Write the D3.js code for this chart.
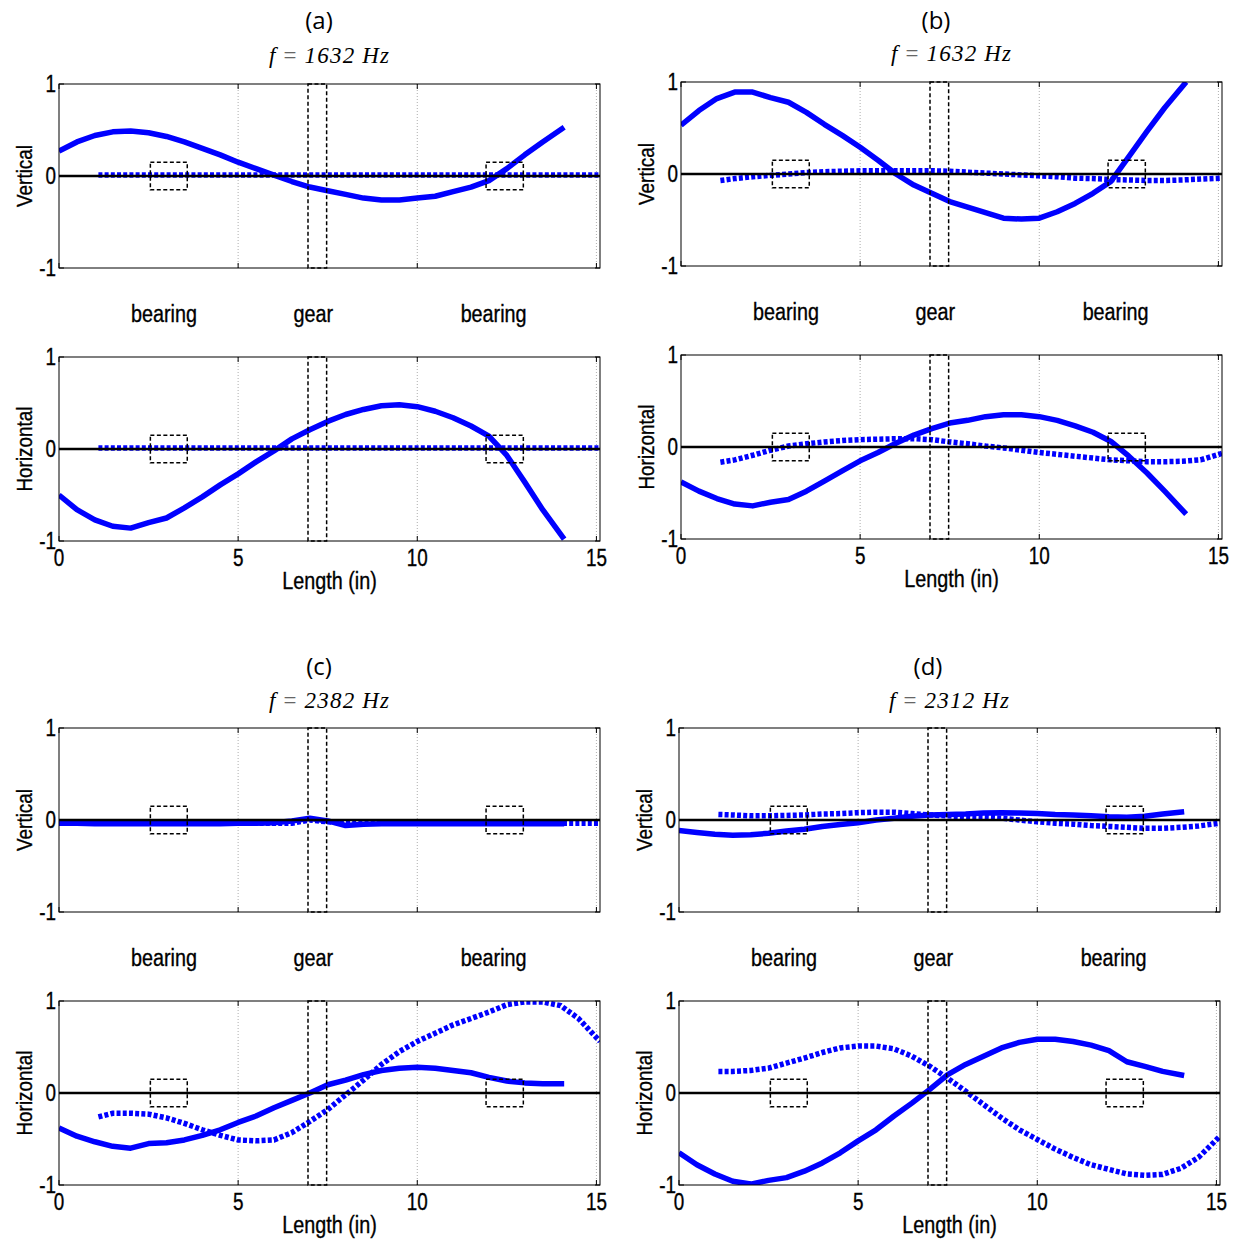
<!DOCTYPE html>
<html><head><meta charset="utf-8">
<script src="https://cdn.jsdelivr.net/npm/d3@7"></script>
<style>body{margin:0;background:#fff}svg{display:block}</style>
</head><body>
<svg id="c" width="1239" height="1243"></svg>
<script>
// ---- data ----
const xTicks = [0, 5, 10, 15];
const yTicks = [-1, 0, 1];
const panelLabels = ["(a)", "(b)", "(c)", "(d)"];
const freqLabels = ["1632", "1632", "2382", "2312"];
const partLabels = ["bearing", "gear", "bearing"];
const partPositions = [2.93, 7.1, 12.13];
const bearingBoxes = [[2.55, 3.58], [11.92, 12.96]];
const gearBox = [6.95, 7.47];
const solidX = [0,0.5,1,1.5,2,2.5,3,3.5,4,4.5,5,5.5,6,6.5,7,7.5,8,8.5,9,9.5,10,10.5,11,11.5,12,12.5,13,13.5,14.1];
const dottedX = [1.1,1.5,2,2.5,3,3.5,4,4.5,5,5.5,6,6.5,7,7.5,8,8.5,9,9.5,10,10.5,11,11.5,12,12.5,13,13.5,14,14.5,15.1];

const aVertSolid = [0.27,0.37,0.44,0.48,0.49,0.47,0.43,0.37,0.30,0.23,0.15,0.08,0.01,-0.06,-0.12,-0.16,-0.20,-0.24,-0.26,-0.26,-0.24,-0.22,-0.17,-0.12,-0.05,0.08,0.23,0.37,0.53];
const aVertDotted = [0.01,0.01,0.01,0.01,0.01,0.01,0.01,0.01,0.01,0.01,0.01,0.01,0.01,0.01,0.01,0.01,0.01,0.01,0.01,0.01,0.01,0.01,0.01,0.01,0.01,0.01,0.01,0.01,0.01];
const aHorSolid = [-0.50,-0.66,-0.77,-0.84,-0.86,-0.80,-0.75,-0.64,-0.52,-0.39,-0.27,-0.14,-0.02,0.11,0.21,0.30,0.375,0.43,0.47,0.48,0.46,0.41,0.34,0.25,0.14,-0.07,-0.36,-0.66,-0.98];
const aHorDotted = [0.01,0.01,0.01,0.01,0.01,0.01,0.01,0.01,0.01,0.01,0.01,0.01,0.01,0.01,0.01,0.01,0.01,0.01,0.01,0.01,0.01,0.01,0.01,0.01,0.01,0.01,0.01,0.01,0.01];

const bVertSolid = [0.53,0.69,0.82,0.89,0.89,0.83,0.78,0.67,0.54,0.42,0.29,0.15,0.0,-0.12,-0.21,-0.30,-0.36,-0.42,-0.48,-0.49,-0.48,-0.41,-0.32,-0.21,-0.08,0.19,0.46,0.72,1.0];
const bVertDotted = [-0.07,-0.05,-0.03,-0.015,0.0,0.015,0.025,0.03,0.035,0.035,0.035,0.035,0.035,0.03,0.02,0.01,0.0,-0.01,-0.02,-0.03,-0.045,-0.05,-0.06,-0.065,-0.07,-0.07,-0.065,-0.055,-0.045];
const bHorSolid = [-0.38,-0.48,-0.56,-0.62,-0.64,-0.60,-0.57,-0.48,-0.37,-0.26,-0.15,-0.06,0.04,0.13,0.20,0.26,0.29,0.33,0.35,0.35,0.33,0.29,0.23,0.16,0.06,-0.10,-0.28,-0.48,-0.73];
const bHorDotted = [-0.165,-0.14,-0.09,-0.035,0.01,0.035,0.055,0.07,0.08,0.085,0.09,0.09,0.08,0.055,0.035,0.01,-0.01,-0.035,-0.06,-0.08,-0.10,-0.12,-0.14,-0.15,-0.16,-0.16,-0.155,-0.14,-0.07];

const cVertSolid = [-0.035,-0.035,-0.04,-0.04,-0.04,-0.04,-0.04,-0.04,-0.04,-0.04,-0.035,-0.035,-0.03,-0.01,0.02,-0.01,-0.06,-0.045,-0.04,-0.04,-0.04,-0.04,-0.04,-0.04,-0.04,-0.04,-0.04,-0.04,-0.04];
const cVertDotted = [-0.035,-0.035,-0.035,-0.035,-0.035,-0.035,-0.035,-0.035,-0.035,-0.035,-0.035,-0.035,0.0,-0.02,-0.035,-0.035,-0.035,-0.035,-0.035,-0.035,-0.035,-0.035,-0.035,-0.035,-0.035,-0.035,-0.035,-0.035,-0.035];
const cHorSolid = [-0.38,-0.47,-0.53,-0.58,-0.60,-0.55,-0.54,-0.51,-0.46,-0.40,-0.32,-0.25,-0.16,-0.08,0.0,0.09,0.14,0.20,0.245,0.27,0.28,0.27,0.245,0.22,0.17,0.13,0.11,0.10,0.10];
const cHorDotted = [-0.26,-0.22,-0.22,-0.23,-0.27,-0.33,-0.40,-0.46,-0.51,-0.52,-0.51,-0.43,-0.31,-0.18,-0.02,0.14,0.31,0.45,0.56,0.65,0.74,0.81,0.88,0.96,0.99,0.99,0.95,0.81,0.56];

const dVertSolid = [-0.115,-0.135,-0.155,-0.165,-0.16,-0.145,-0.12,-0.10,-0.07,-0.05,-0.03,0.0,0.02,0.04,0.055,0.06,0.065,0.075,0.08,0.075,0.07,0.06,0.055,0.045,0.035,0.03,0.04,0.065,0.09];
const dVertDotted = [0.06,0.055,0.045,0.045,0.05,0.055,0.065,0.07,0.08,0.085,0.085,0.07,0.055,0.045,0.035,0.03,0.02,0.0,-0.02,-0.035,-0.045,-0.06,-0.07,-0.08,-0.09,-0.09,-0.08,-0.065,-0.035];
const dHorSolid = [-0.65,-0.78,-0.88,-0.96,-0.99,-0.95,-0.92,-0.85,-0.76,-0.65,-0.52,-0.40,-0.25,-0.11,0.04,0.20,0.31,0.40,0.49,0.55,0.585,0.585,0.56,0.52,0.46,0.34,0.29,0.235,0.19];
const dHorDotted = [0.235,0.235,0.245,0.27,0.325,0.38,0.44,0.49,0.51,0.51,0.48,0.40,0.29,0.16,0.02,-0.125,-0.27,-0.40,-0.505,-0.61,-0.70,-0.78,-0.83,-0.88,-0.895,-0.885,-0.82,-0.70,-0.47];

// ---- layout ----
const panels = [
  {x0: 59,  top: 84,  bot: 357, title: 20,  tx: 319, freq: 55,  parts: 314, vs: aVertSolid, vd: aVertDotted, hs: aHorSolid, hd: aHorDotted},
  {x0: 681, top: 82,  bot: 355, title: 20,  tx: 936, freq: 53,  parts: 312, vs: bVertSolid, vd: bVertDotted, hs: bHorSolid, hd: bHorDotted},
  {x0: 59,  top: 728, bot: 1001, title: 666, tx: 319, freq: 700, parts: 958, vs: cVertSolid, vd: cVertDotted, hs: cHorSolid, hd: cHorDotted},
  {x0: 679, top: 728, bot: 1001, title: 666, tx: 928, freq: 700, parts: 958, vs: dVertSolid, vd: dVertDotted, hs: dHorSolid, hd: dHorDotted}
];
const PW = 541, PH = 184;
const sans = "'Liberation Sans', Arial, sans-serif";
const svg = d3.select("#c");
let clipId = 0;

function txt(g, x, y, str, size, anchor, sx, rot) {
  return g.append("text")
    .attr("transform", `translate(${x},${y})${rot ? " rotate(-90)" : ""} scale(${sx},1)`)
    .attr("dy", "0.36em").attr("text-anchor", anchor)
    .attr("font-family", sans).attr("font-size", size).attr("fill", "#000")
    .attr("stroke", "#000").attr("stroke-width", 0.35)
    .text(str);
}

function drawPlot(g, x0, y0, solid, dotted, yLabel, showX) {
  const x = d3.scaleLinear().domain([0, 15.1]).range([x0, x0 + PW]);
  const y = d3.scaleLinear().domain([-1, 1]).range([y0 + PH, y0]);
  const id = "clip" + (clipId++);
  g.append("clipPath").attr("id", id).append("rect")
    .attr("x", x0).attr("y", y0).attr("width", PW).attr("height", PH);
  // grid
  g.selectAll(null).data(xTicks.filter(t => t > 0)).join("line")
    .attr("x1", d => x(d)).attr("x2", d => x(d)).attr("y1", y0).attr("y2", y0 + PH)
    .attr("stroke", "#999").attr("stroke-width", 0.8).attr("stroke-dasharray", "1,2");
  // ticks (inside)
  xTicks.forEach(t => {
    g.append("line").attr("x1", x(t)).attr("x2", x(t)).attr("y1", y0 + PH).attr("y2", y0 + PH - 5).attr("stroke", "#000");
    g.append("line").attr("x1", x(t)).attr("x2", x(t)).attr("y1", y0).attr("y2", y0 + 5).attr("stroke", "#000");
  });
  yTicks.forEach(t => {
    g.append("line").attr("x1", x0).attr("x2", x0 + 5).attr("y1", y(t)).attr("y2", y(t)).attr("stroke", "#000");
    g.append("line").attr("x1", x0 + PW).attr("x2", x0 + PW - 5).attr("y1", y(t)).attr("y2", y(t)).attr("stroke", "#000");
  });
  const line = d3.line().x(d => x(d[0])).y(d => y(d[1]));
  const cg = g.append("g").attr("clip-path", `url(#${id})`);
  cg.append("path").attr("d", line(solidX.map((v, i) => [v, solid[i]])))
    .attr("fill", "none").attr("stroke", "#0000ff").attr("stroke-width", 5.5).attr("stroke-linejoin", "round");
  cg.append("path").attr("d", line(dottedX.map((v, i) => [v, dotted[i]])))
    .attr("fill", "none").attr("stroke", "#0000ff").attr("stroke-width", 5.5).attr("stroke-dasharray", "4,2.2");
  // zero line
  g.append("line").attr("x1", x0).attr("x2", x0 + PW).attr("y1", y(0)).attr("y2", y(0))
    .attr("stroke", "#000").attr("stroke-width", 2.5);
  // boxes
  bearingBoxes.forEach(b => {
    g.append("rect").attr("x", x(b[0])).attr("y", y(0.15)).attr("width", x(b[1]) - x(b[0])).attr("height", y(-0.15) - y(0.15))
      .attr("fill", "none").attr("stroke", "#000").attr("stroke-width", 1.5).attr("stroke-dasharray", "4,2.5");
  });
  g.append("rect").attr("x", x(gearBox[0])).attr("y", y0).attr("width", x(gearBox[1]) - x(gearBox[0])).attr("height", PH)
    .attr("fill", "none").attr("stroke", "#000").attr("stroke-width", 1.5).attr("stroke-dasharray", "4,2.5");
  // frame
  g.append("rect").attr("x", x0).attr("y", y0).attr("width", PW).attr("height", PH)
    .attr("fill", "none").attr("stroke", "#000").attr("stroke-width", 1);
  // y tick labels
  yTicks.forEach(t => txt(g, x0 - 3, y(t), t, 23, "end", 0.82));
  // y label
  txt(g, x0 - 35, y(0), yLabel, 22, "middle", 0.86, true);
  if (showX) {
    xTicks.forEach(t => txt(g, x(t), y0 + PH + 17, t, 23, "middle", 0.82));
    txt(g, x0 + PW / 2, y0 + PH + 40, "Length (in)", 23, "middle", 0.86);
  }
  return x;
}

panels.forEach((p, i) => {
  const g = svg.append("g");
  const x = drawPlot(g, p.x0, p.top, p.vs, p.vd, "Vertical", false);
  drawPlot(g, p.x0, p.bot, p.hs, p.hd, "Horizontal", true);
  // panel title
  g.append("text").attr("x", p.tx).attr("y", p.title).attr("dy", "0.36em")
    .attr("text-anchor", "middle").attr("font-family", "'Open Sans', 'Noto Sans', sans-serif").attr("font-size", 24)
    .text(panelLabels[i]);
  // frequency
  const ft = g.append("text").attr("x", p.x0 + 270).attr("y", p.freq).attr("dy", "0.36em")
    .attr("text-anchor", "middle").attr("font-family", "'Liberation Serif', 'Times New Roman', serif").attr("font-size", 23)
    .attr("textLength", 120).attr("lengthAdjust", "spacing");
  ft.append("tspan").attr("font-style", "italic").text("f");
  ft.append("tspan").attr("fill", "#666").text(" = ");
  ft.append("tspan").attr("font-style", "italic").text(freqLabels[i] + " Hz");
  // part labels
  partLabels.forEach((lab, j) => txt(g, x(partPositions[j]), p.parts, lab, 23, "middle", 0.86));
});
</script>
</body></html>
